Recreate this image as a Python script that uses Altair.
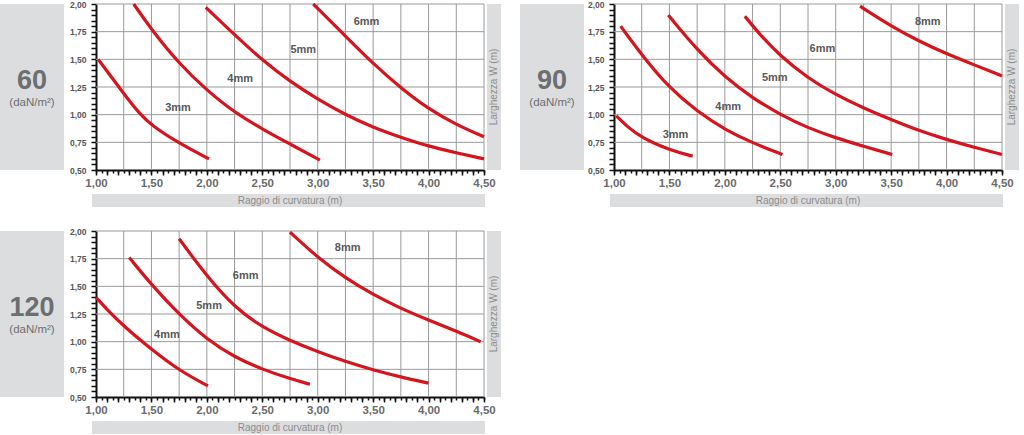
import altair as alt
import pandas as pd

FONT = "Liberation Sans"
RED = "#d3161e"
BOX = "#dcdddf"
GRID = "#9a9a9a"
W, H = 388, 166

# ---- axis tick positions / grid positions ----
X_TICKS = [1.0, 1.05, 1.1, 1.15, 1.2, 1.25, 1.3, 1.35, 1.4, 1.45, 1.5, 1.55, 1.6, 1.65, 1.7, 1.75,
           1.8, 1.85, 1.9, 1.95, 2.0, 2.05, 2.1, 2.15, 2.2, 2.25, 2.3, 2.35, 2.4, 2.45, 2.5, 2.55,
           2.6, 2.65, 2.7, 2.75, 2.8, 2.85, 2.9, 2.95, 3.0, 3.05, 3.1, 3.15, 3.2, 3.25, 3.3, 3.35,
           3.4, 3.45, 3.5, 3.55, 3.6, 3.65, 3.7, 3.75, 3.8, 3.85, 3.9, 3.95, 4.0, 4.05, 4.1, 4.15,
           4.2, 4.25, 4.3, 4.35, 4.4, 4.45, 4.5]
X_TICKS_LONG = [1.0, 1.1, 1.2, 1.3, 1.4, 1.5, 1.6, 1.7, 1.8, 1.9, 2.0, 2.1, 2.2, 2.3, 2.4, 2.5, 2.6,
                2.7, 2.8, 2.9, 3.0, 3.1, 3.2, 3.3, 3.4, 3.5, 3.6, 3.7, 3.8, 3.9, 4.0, 4.1, 4.2, 4.3,
                4.4, 4.5]
Y_TICKS = [0.5, 0.55, 0.6, 0.65, 0.7, 0.75, 0.8, 0.85, 0.9, 0.95, 1.0, 1.05, 1.1, 1.15, 1.2, 1.25,
           1.3, 1.35, 1.4, 1.45, 1.5, 1.55, 1.6, 1.65, 1.7, 1.75, 1.8, 1.85, 1.9, 1.95, 2.0]
GRID_X = [1.25, 1.5, 1.75, 2.0, 2.25, 2.5, 2.75, 3.0, 3.25, 3.5, 3.75, 4.0, 4.25, 4.5]
GRID_Y = [0.75, 1.0, 1.25, 1.5, 1.75, 2.0]

# ---- curves (raggio di curvatura, larghezza W) ----
P60_3MM = [(1.02, 1.50), (1.25, 1.19), (1.40, 1.00), (1.50, 0.905), (1.75, 0.74), (2.02, 0.60)]
P60_4MM = [(1.34, 2.00), (1.50, 1.77), (1.75, 1.46), (2.00, 1.22), (2.25, 1.02), (2.50, 0.87),
           (2.75, 0.735), (3.02, 0.59)]
P60_5MM = [(1.99, 1.97), (2.30, 1.675), (2.50, 1.495), (2.75, 1.30), (3.00, 1.14), (3.25, 1.00),
           (3.50, 0.885), (3.75, 0.795), (4.00, 0.715), (4.25, 0.655), (4.50, 0.60)]
P60_6MM = [(2.96, 2.00), (3.25, 1.71), (3.50, 1.46), (3.75, 1.24), (4.00, 1.05), (4.25, 0.91),
           (4.50, 0.80)]

P90_3MM = [(1.02, 0.99), (1.11, 0.90), (1.25, 0.79), (1.50, 0.68), (1.71, 0.625)]
P90_4MM = [(1.06, 1.80), (1.25, 1.54), (1.50, 1.24), (1.75, 1.03), (2.00, 0.865), (2.25, 0.745),
           (2.52, 0.64)]
P90_5MM = [(1.49, 1.90), (1.75, 1.585), (2.00, 1.34), (2.25, 1.15), (2.50, 1.00), (2.75, 0.88),
           (3.00, 0.79), (3.25, 0.715), (3.51, 0.64)]
P90_6MM = [(2.18, 1.89), (2.31, 1.73), (2.50, 1.53), (2.75, 1.33), (3.00, 1.18), (3.25, 1.06),
           (3.50, 0.955), (3.75, 0.855), (4.00, 0.775), (4.25, 0.705), (4.50, 0.64)]
P90_8MM = [(3.22, 1.98), (3.50, 1.80), (3.75, 1.665), (4.00, 1.55), (4.25, 1.45), (4.50, 1.35)]

P120_4MM = [(1.00, 1.40), (1.10, 1.29), (1.25, 1.14), (1.50, 0.93), (1.75, 0.74), (2.01, 0.60)]
P120_5MM = [(1.30, 1.76), (1.50, 1.515), (1.75, 1.245), (2.00, 1.02), (2.25, 0.86), (2.50, 0.75),
            (2.75, 0.665), (2.93, 0.615)]
P120_6MM = [(1.75, 1.93), (2.00, 1.59), (2.25, 1.31), (2.50, 1.13), (2.75, 1.01), (3.00, 0.91),
            (3.25, 0.82), (3.50, 0.745), (3.75, 0.68), (4.00, 0.625)]
P120_8MM = [(2.75, 1.99), (3.00, 1.76), (3.25, 1.575), (3.50, 1.425), (3.75, 1.30), (4.00, 1.195),
            (4.25, 1.095), (4.47, 1.00)]

# ---- curve labels ----
P60_LABELS = [("3mm", 1.74, 1.06), ("4mm", 2.30, 1.32), ("5mm", 2.87, 1.58), ("6mm", 3.44, 1.84)]
P90_LABELS = [("3mm", 1.555, 0.815), ("4mm", 2.03, 1.07), ("5mm", 2.45, 1.33), ("6mm", 2.88, 1.59),
              ("8mm", 3.83, 1.84)]
P120_LABELS = [("4mm", 1.64, 1.06), ("5mm", 2.02, 1.32), ("6mm", 2.35, 1.59), ("8mm", 3.27, 1.85)]

LOADS = ["60", "90", "120"]
UNIT = "(daN/m²)"
X_TITLE = "Raggio di curvatura (m)"
Y_TITLE = "Larghezza W (m)"

XL = "abs(datum.value*2 - round(datum.value*2)) < 0.001 ? replace(format(datum.value, '.2f'), '.', ',') : ''"
YL = "abs(datum.value*4 - round(datum.value*4)) < 0.001 ? replace(format(datum.value, '.2f'), '.', ',') : ''"

xs = alt.Scale(domain=[1.0, 4.5], nice=False, zero=False)
ys = alt.Scale(domain=[0.5, 2.0], nice=False, zero=False)
ONE = pd.DataFrame({"k": [0]})


def curves_df(curves):
    rows = []
    for name, pts in curves:
        for x, y in pts:
            rows.append({"curve": name, "x": x, "y": y})
    return pd.DataFrame(rows)


def panel(load, curves, labels, box_left):
    gx = pd.DataFrame({"x": GRID_X})
    gy = pd.DataFrame({"y": GRID_Y})
    vgrid = alt.Chart(gx).mark_rule(color=GRID, strokeWidth=1).encode(
        x=alt.X("x:Q", scale=xs, axis=alt.Axis(
            orient="bottom", values=X_TICKS_LONG, tickSize=5, tickWidth=1.5, tickColor="#111",
            labels=False, domain=False, grid=False, title=None)))
    hgrid = alt.Chart(gy).mark_rule(color=GRID, strokeWidth=1).encode(
        y=alt.Y("y:Q", scale=ys, axis=None))

    box = alt.Chart(ONE).mark_rect(color=BOX).encode(
        x=alt.value(box_left), x2=alt.value(box_left + 64), y=alt.value(0), y2=alt.value(H))
    load_t = alt.Chart(ONE).mark_text(font=FONT, fontSize=27, fontWeight="bold", color="#6d6e71",
                                      baseline="middle", align="center").encode(
        x=alt.value(box_left + 32), y=alt.value(77), text=alt.value(load))
    unit_t = alt.Chart(ONE).mark_text(font=FONT, fontSize=11.5, color="#6d6e71",
                                      baseline="middle", align="center").encode(
        x=alt.value(box_left + 32), y=alt.value(99), text=alt.value(UNIT))
    rstrip = alt.Chart(ONE).mark_rect(color=BOX).encode(
        x=alt.value(W + 3), x2=alt.value(W + 17), y=alt.value(0), y2=alt.value(H))
    rtext = alt.Chart(ONE).mark_text(font=FONT, fontSize=10, color="#8c8c8c", angle=270,
                                     baseline="middle", align="center").encode(
        x=alt.value(W + 10), y=alt.value(H / 2), text=alt.value(Y_TITLE))
    bstrip = alt.Chart(ONE).mark_rect(color=BOX).encode(
        x=alt.value(-4), x2=alt.value(W + 1), y=alt.value(190), y2=alt.value(203))
    btext = alt.Chart(ONE).mark_text(font=FONT, fontSize=10, color="#8c8c8c",
                                     baseline="middle", align="center").encode(
        x=alt.value(W / 2), y=alt.value(196.5), text=alt.value(X_TITLE))

    lines = alt.Chart(curves_df(curves)).mark_line(
        color=RED, strokeWidth=3.2, interpolate="basis").encode(
        x=alt.X("x:Q", scale=xs, axis=alt.Axis(
            orient="bottom", values=X_TICKS, tickSize=3, tickWidth=1.5, tickColor="#111",
            domainColor="#111", domainWidth=2, labelExpr=XL, labelFont=FONT, labelFontSize=11.5,
            labelFontWeight="bold", labelColor="#6b6b6b", labelPadding=4, labelFlush=False,
            labelOverlap=False, grid=False, title=None)),
        y=alt.Y("y:Q", scale=ys, axis=alt.Axis(
            orient="left", values=Y_TICKS, tickSize=5, tickWidth=1.5, tickColor="#111",
            domainColor="#111", domainWidth=2, labelExpr=YL, labelFont=FONT, labelFontSize=8.5,
            labelFontWeight="bold", labelColor="#555555", labelPadding=5, labelFlush=False,
            labelOverlap=False, grid=False, title=None)),
        detail="curve:N")

    ldf = pd.DataFrame([{"t": t, "x": x, "y": y} for t, x, y in labels])
    ltext = alt.Chart(ldf).mark_text(font=FONT, fontSize=11, fontWeight="bold", color="#595959",
                                     baseline="middle", align="center").encode(
        x=alt.X("x:Q", scale=xs, axis=None), y=alt.Y("y:Q", scale=ys, axis=None), text="t:N")

    return alt.layer(box, load_t, unit_t, rstrip, rtext, bstrip, btext, vgrid, hgrid, lines, ltext
                     ).resolve_axis(x="independent", y="independent").properties(width=W, height=H)


p60 = panel(LOADS[0], [("3mm", P60_3MM), ("4mm", P60_4MM), ("5mm", P60_5MM), ("6mm", P60_6MM)],
            P60_LABELS, -96)
p90 = panel(LOADS[1], [("3mm", P90_3MM), ("4mm", P90_4MM), ("5mm", P90_5MM), ("6mm", P90_6MM),
                       ("8mm", P90_8MM)], P90_LABELS, -94)
p120 = panel(LOADS[2], [("4mm", P120_4MM), ("5mm", P120_5MM), ("6mm", P120_6MM), ("8mm", P120_8MM)],
             P120_LABELS, -96)

chart = alt.concat(p60, p90, p120, columns=2, spacing={"row": 61, "column": 130}, bounds="flush"
                   ).properties(padding={"left": 0, "top": -3, "right": 0, "bottom": 0},
                                background="white").configure_view(strokeWidth=0)

chart.save("out.html", embed_options={"renderer": "svg", "actions": False})
